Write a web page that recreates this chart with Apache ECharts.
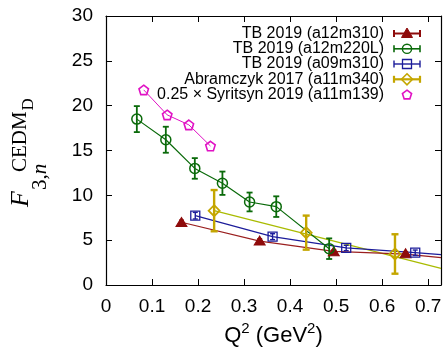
<!DOCTYPE html>
<html><head><meta charset="utf-8">
<script src="https://cdn.jsdelivr.net/npm/echarts@6/dist/echarts.min.js"></script>
<style>html,body{margin:0;padding:0;background:#fff}#c{width:447px;height:351px}</style>
</head><body><div id="c"></div>
<script>
// ---- data ----
const xTickStep = 0.1;
const yTicks = [0, 5, 10, 15, 20, 25, 30];
// TB 2019 (a12m310)
const redQ2 = [0.164, 0.334, 0.495, 0.651];
const redF = [7.03, 4.95, 3.76, 3.54];
const redErr = [0.2, 0.2, 0.15, 0.15];
const redLineQ2 = [0.164, 0.334, 0.495, 0.651, 0.728];
const redLineF = [7.0, 4.9, 3.75, 3.45, 3.05];
// TB 2019 (a12m220L)
const greenQ2 = [0.067, 0.130, 0.193, 0.253, 0.312, 0.370, 0.485];
const greenF = [18.5, 16.2, 13.0, 11.35, 9.26, 8.74, 4.05];
const greenErr = [1.45, 1.45, 1.15, 1.3, 1.05, 1.15, 1.15];
// TB 2019 (a09m310)
const blueQ2 = [0.194, 0.362, 0.522, 0.672];
const blueF = [7.73, 5.39, 4.13, 3.6];
const blueErr = [0.37, 0.33, 0.3, 0.3];
const blueLineQ2 = [0.194, 0.362, 0.522, 0.672, 0.728];
const blueLineF = [7.73, 5.39, 4.13, 3.6, 3.38];
// Abramczyk 2017 (a11m340)
const yelQ2 = [0.235, 0.435, 0.628];
const yelF = [8.29, 5.84, 3.46];
const yelErr = [2.3, 1.9, 2.2];
const yelLineQ2 = [0.235, 0.728];
const yelLineF = [8.29, 1.86];
// 0.25 x Syritsyn 2019 (a11m139)
const magQ2 = [0.082, 0.133, 0.180, 0.227];
const magF = [21.76, 18.97, 17.86, 15.5];

const legendNames = ['TB 2019 (a12m310)', 'TB 2019 (a12m220L)', 'TB 2019 (a09m310)',
  'Abramczyk 2017 (a11m340)', '0.25 \u00d7 Syritsyn 2019 (a11m139)'];

// ---- styles ----
const C = {
  red: '#8e0b0b', redLine: '#9a1f1f',
  green: '#0a6a0a',
  blue: '#1c1c9a',
  yel: '#c4a600', yelLine: '#a9bb00',
  mag: '#e012c4'
};
const SANS = 'Liberation Sans, Arial, sans-serif';
const SERIF = 'Liberation Serif, Times New Roman, serif';
const PENT = 'path://M0,-10L9.51,-3.09L5.88,8.09L-5.88,8.09L-9.51,-3.09Z';

const zip = (a, b) => a.map((v, i) => [v, b[i]]);
const zip3 = (a, b, c) => a.map((v, i) => [v, b[i], c[i]]);

function errSeries(data, color, width, cap) {
  return {
    type: 'custom', silent: true, z: 3,
    renderItem: function (params, api) {
      const x = api.value(0), y = api.value(1), e = api.value(2);
      const top = api.coord([x, y + e]);
      const bot = api.coord([x, y - e]);
      const st = { stroke: color, lineWidth: width };
      return { type: 'group', children: [
        { type: 'line', shape: { x1: top[0], y1: top[1], x2: bot[0], y2: bot[1] }, style: st },
        { type: 'line', shape: { x1: top[0] - cap, y1: top[1], x2: top[0] + cap, y2: top[1] }, style: st },
        { type: 'line', shape: { x1: bot[0] - cap, y1: bot[1], x2: bot[0] + cap, y2: bot[1] }, style: st }
      ] };
    },
    data: data
  };
}
function lineSeries(data, color, width) {
  return { type: 'line', data: data, symbol: 'none', silent: true, z: 2,
    lineStyle: { color: color, width: width }, animation: false };
}
function markSeries(data, symbol, size, fill, stroke, bw) {
  return { type: 'scatter', data: data, symbol: symbol, symbolSize: size, silent: true, z: 4,
    itemStyle: { color: fill, borderColor: stroke, borderWidth: bw, opacity: 1 } };
}

// text width helper
const mctx = document.createElement('canvas').getContext('2d');
function tw(t, font) { mctx.font = font; return mctx.measureText(t).width; }

// ---- graphic: axis titles and key ----
const graphics = [];
// y title (rotated)
function rtext(t, x, y, font) {
  graphics.push({ type: 'text', x: x, y: y, rotation: Math.PI / 2, silent: true,
    style: { text: t, font: font, fill: '#000', align: 'left', verticalAlign: 'middle',
      textAlign: 'left', textVerticalAlign: 'middle' } });
}
rtext('F', 21.5, 207, 'italic 26px ' + SERIF);
rtext('CEDM', 20.5, 172, '21px ' + SERIF);
rtext('D', 29, 110.5, '17px ' + SERIF);
graphics.push({ type: 'text', x: 40, y: 190, rotation: Math.PI / 2, silent: true,
  style: { text: '3,{i|n}', font: '21px ' + SERIF, fill: '#000', align: 'left', verticalAlign: 'middle',
    rich: { i: { fontStyle: 'italic', fontSize: 21, fontFamily: SERIF, fill: '#000' } } } });
// x title
(function () {
  const fm = '22px ' + SANS, fs = '15px ' + SANS;
  const parts = [['Q', fm, 0], ['2', fs, -7], [' (GeV', fm, 0], ['2', fs, -7], [')', fm, 0]];
  let total = 0; parts.forEach(p => total += tw(p[0], p[1]));
  let x = 273.5 - total / 2;
  parts.forEach(p => {
    graphics.push({ type: 'text', x: x, y: 336 + p[2], silent: true,
      style: { text: p[0], font: p[1], fill: '#000', align: 'left', verticalAlign: 'middle' } });
    x += tw(p[0], p[1]);
  });
})();
// key
const keyY = [33.5, 48.8, 64, 79.3, 94.5];
const keyTextX = 384, kx0 = 394, kx1 = 420, kxm = 407;
legendNames.forEach((n, i) => {
  graphics.push({ type: 'text', x: keyTextX, y: keyY[i], silent: true,
    style: { text: n, font: '16px ' + SANS, fill: '#000', align: 'right', verticalAlign: 'middle' } });
});
function keyBar(i, color, lw) {
  const y = keyY[i];
  const st = { stroke: color, lineWidth: lw };
  graphics.push({ type: 'line', silent: true, shape: { x1: kx0, y1: y, x2: kx1, y2: y }, style: st });
  graphics.push({ type: 'line', silent: true, shape: { x1: kx0, y1: y - 3.5, x2: kx0, y2: y + 3.5 }, style: st });
  graphics.push({ type: 'line', silent: true, shape: { x1: kx1, y1: y - 3.5, x2: kx1, y2: y + 3.5 }, style: st });
}
keyBar(0, C.red, 2);
graphics.push({ type: 'polygon', silent: true, shape: { points: [[kxm, keyY[0] - 5.5], [kxm + 5.5, keyY[0] + 4], [kxm - 5.5, keyY[0] + 4]] },
  style: { fill: C.red, stroke: C.red, lineWidth: 1 } });
keyBar(1, C.green, 1.6);
graphics.push({ type: 'circle', silent: true, shape: { cx: kxm, cy: keyY[1], r: 4.6 }, style: { fill: 'none', stroke: C.green, lineWidth: 1.4 } });
keyBar(2, C.blue, 1.4);
graphics.push({ type: 'rect', silent: true, shape: { x: kxm - 4.5, y: keyY[2] - 4.5, width: 9, height: 9 }, style: { fill: 'none', stroke: C.blue, lineWidth: 1.3 } });
keyBar(3, C.yel, 2.2);
graphics.push({ type: 'polygon', silent: true, shape: { points: [[kxm, keyY[3] - 5.5], [kxm + 5.5, keyY[3]], [kxm, keyY[3] + 5.5], [kxm - 5.5, keyY[3]]] },
  style: { fill: 'none', stroke: C.yel, lineWidth: 1.6 } });
(function () {
  const pts = []; const r = 4.8, cy = keyY[4] + 0.5;
  for (let k = 0; k < 5; k++) { const a = -Math.PI / 2 + k * 2 * Math.PI / 5; pts.push([kxm + r * Math.cos(a), cy + r * Math.sin(a)]); }
  graphics.push({ type: 'polygon', silent: true, shape: { points: pts }, style: { fill: 'none', stroke: C.mag, lineWidth: 1.6 } });
})();

const axisCommon = {
  type: 'value',
  axisLine: { show: true, onZero: false, lineStyle: { color: '#000', width: 1.2 } },
  axisTick: { show: true, inside: true, length: 6, lineStyle: { color: '#000', width: 1 } },
  splitLine: { show: false }
};
const xLabel = { show: true, color: '#000', fontSize: 19, fontFamily: SANS, margin: 12, showMaxLabel: false,
  formatter: v => (Math.abs(v) < 1e-9 ? '0' : v.toFixed(1)) };
const yLabel = { show: true, color: '#000', fontSize: 19, fontFamily: SANS, margin: 13 };

const chart = echarts.init(document.getElementById('c'), null, { renderer: 'canvas' });
chart.setOption({
  animation: false,
  backgroundColor: '#fff',
  grid: { left: 106, right: 6, top: 16, bottom: 66, containLabel: false },
  xAxis: [
    Object.assign({}, axisCommon, { position: 'bottom', min: 0, max: 0.728, interval: xTickStep, axisLabel: xLabel }),
    Object.assign({}, axisCommon, { position: 'top', min: 0, max: 0.728, interval: xTickStep, axisLabel: { show: false } })
  ],
  yAxis: [
    Object.assign({}, axisCommon, { position: 'left', min: yTicks[0], max: yTicks[yTicks.length - 1], interval: yTicks[1] - yTicks[0], axisLabel: yLabel }),
    Object.assign({}, axisCommon, { position: 'right', min: yTicks[0], max: yTicks[yTicks.length - 1], interval: yTicks[1] - yTicks[0], axisLabel: { show: false } })
  ],
  series: [
    lineSeries(zip(yelLineQ2, yelLineF), C.yelLine, 1.2),
    lineSeries(zip(redLineQ2, redLineF), C.redLine, 1.2),
    lineSeries(zip(blueLineQ2, blueLineF), C.blue, 1.2),
    lineSeries(zip(greenQ2, greenF), C.green, 1.2),
    lineSeries(zip(magQ2, magF), C.mag, 1),
    errSeries(zip3(greenQ2, greenF, greenErr), C.green, 1.8, 3),
    errSeries(zip3(yelQ2, yelF, yelErr), C.yel, 2.4, 3.5),
    errSeries(zip3(blueQ2, blueF, blueErr), C.blue, 1.4, 2.5),
    errSeries(zip3(redQ2, redF, redErr), C.red, 1.4, 2.5),
    markSeries(zip(redQ2, redF), 'triangle', [11, 9], C.red, C.red, 1),
    markSeries(zip(greenQ2, greenF), 'circle', 10, 'rgba(0,0,0,0)', C.green, 1.5),
    markSeries(zip(blueQ2, blueF), 'rect', 9, 'rgba(0,0,0,0)', C.blue, 1.3),
    markSeries(zip(yelQ2, yelF), 'diamond', [11, 11], 'rgba(0,0,0,0)', C.yel, 1.8),
    markSeries(zip(magQ2, magF), PENT, 9.5, 'rgba(0,0,0,0)', C.mag, 1.6)
  ],
  graphic: graphics
});
</script>
</body></html>
